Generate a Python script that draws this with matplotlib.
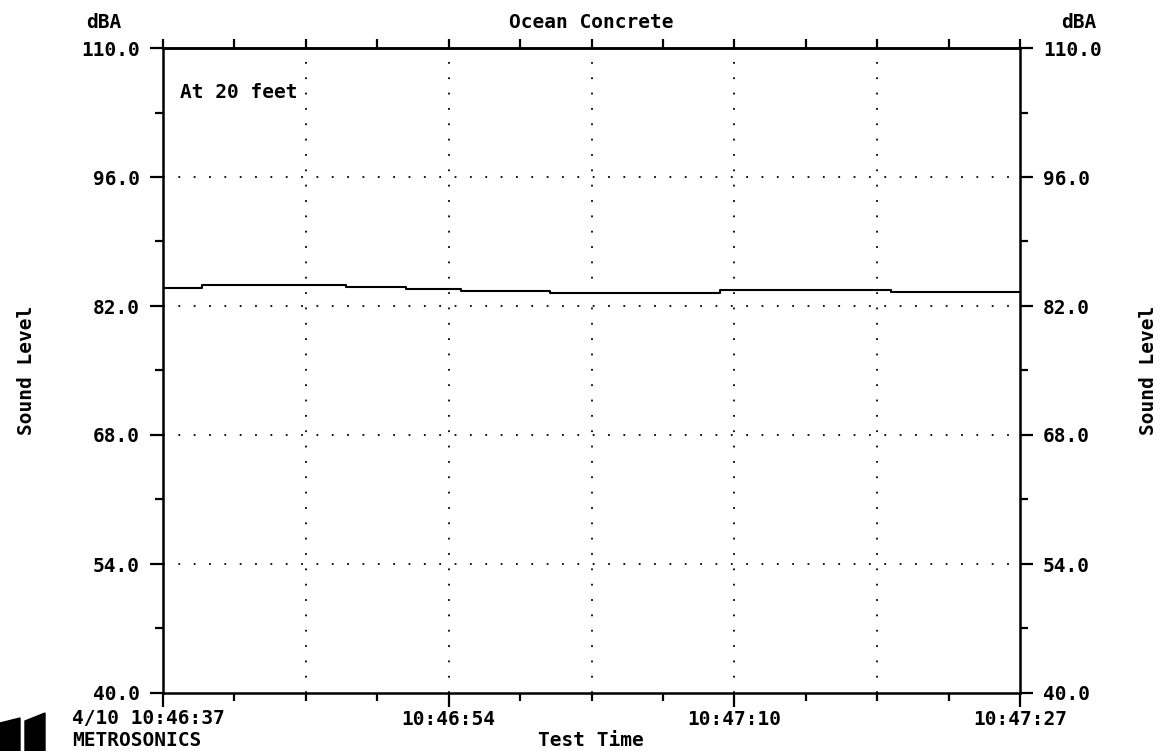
import matplotlib
matplotlib.use("Agg")
import matplotlib.pyplot as plt
from matplotlib.patches import Polygon
import numpy as np

# step segments (seconds from 10:46:37, dBA)
seg_start = [0.0, 2.3, 10.7, 14.2, 17.4, 22.6, 32.5, 42.5]
levels = [83.92, 84.25, 84.06, 83.84, 83.66, 83.44, 83.70, 83.49]
t_end = 50.0

y_ticks = [40.0, 54.0, 68.0, 82.0, 96.0, 110.0]
y_minor = [47.0, 61.0, 75.0, 89.0, 103.0]
x_major = [0.0, 50 / 3, 100 / 3, 50.0]
x_labels = ["", "10:46:54", "10:47:10", "10:47:27"]
first_label = "4/10 10:46:37"

plt.rcParams['font.family'] = ['DejaVu Sans Mono', 'DejaVu Sans']
plt.rcParams['font.weight'] = 'bold'
FS = 14

W, H = 1168, 751
fig = plt.figure(figsize=(W / 100, H / 100), dpi=100)
ax = fig.add_axes([163 / W, 1 - 693 / H, (1020 - 163) / W, (693 - 48) / H])

# trace
xs = seg_start + [t_end]
ys = levels + [levels[-1]]
ax.step(xs, ys, where='post', color='black', lw=1.5)

ax.set_xlim(0, t_end)
ax.set_ylim(40, 110)

# dotted grid
dots = (0, (1, 7.5))
for gx in np.arange(1, 6) * t_end / 6:
    ax.axvline(gx, color='black', lw=1.3, ls=dots)
for gy in y_ticks[1:-1]:
    ax.axhline(gy, color='black', lw=1.3, ls=dots)

# y axis, both sides
ax.set_yticks(y_ticks)
ax.set_yticks(y_minor, minor=True)
ax.set_yticklabels([f"{v:.1f}" for v in y_ticks])
ax.tick_params(axis='y', which='both', direction='out', left=True, right=True,
               labelleft=True, labelright=True, labelsize=FS, pad=7, width=1.6)
ax.tick_params(axis='y', which='major', length=9.5)
ax.tick_params(axis='y', which='minor', length=5.5)

# x axis bottom
ax.set_xticks(x_major)
ax.set_xticks(np.arange(13) * t_end / 12, minor=True)
ax.set_xticklabels(x_labels)
ax.tick_params(axis='x', which='both', direction='out', labelsize=FS, pad=2, width=1.6)
ax.tick_params(axis='x', which='major', length=10)
ax.tick_params(axis='x', which='minor', length=5.5)

# top: uniform short ticks
top = ax.secondary_xaxis('top')
top.set_xticks(np.arange(13) * t_end / 12)
top.set_xticklabels([])
top.tick_params(direction='out', length=6.5, width=1.6)
top.spines['top'].set_linewidth(1.8)

for s in ax.spines.values():
    s.set_linewidth(1.8)

# first time label carries the date, set off to the left
fig.text(72 / W, 1 - 718 / H, first_label, fontsize=FS, ha='left', va='center')

# headers and labels
fig.text(591 / W, 1 - 22 / H, "Ocean Concrete", fontsize=FS, ha='center', va='center')
fig.text(104 / W, 1 - 22 / H, "dBA", fontsize=FS, ha='center', va='center')
fig.text(1079 / W, 1 - 22 / H, "dBA", fontsize=FS, ha='center', va='center')
fig.text(27 / W, 1 - 370 / H, "Sound Level", fontsize=FS, rotation=90,
         ha='center', va='center')
fig.text(1148 / W, 1 - 370 / H, "Sound Level", fontsize=FS, rotation=90,
         ha='center', va='center')
fig.text(591 / W, 1 - 740 / H, "Test Time", fontsize=FS, ha='center', va='center')
fig.text(72 / W, 1 - 740 / H, "METROSONICS", fontsize=FS, ha='left', va='center')
fig.text(180 / W, 1 - 93 / H, "At 20 feet", fontsize=FS, ha='left', va='center')

# little logo blocks
fig.patches.append(Polygon([[0, 0], [20 / W, 0], [20 / W, 33 / H], [0, 28 / H]],
                           closed=True, transform=fig.transFigure, color='black'))
fig.patches.append(Polygon([[25 / W, 0], [45 / W, 0], [45 / W, 38 / H], [25 / W, 30 / H]],
                           closed=True, transform=fig.transFigure, color='black'))

fig.savefig("out.png", dpi=100)
